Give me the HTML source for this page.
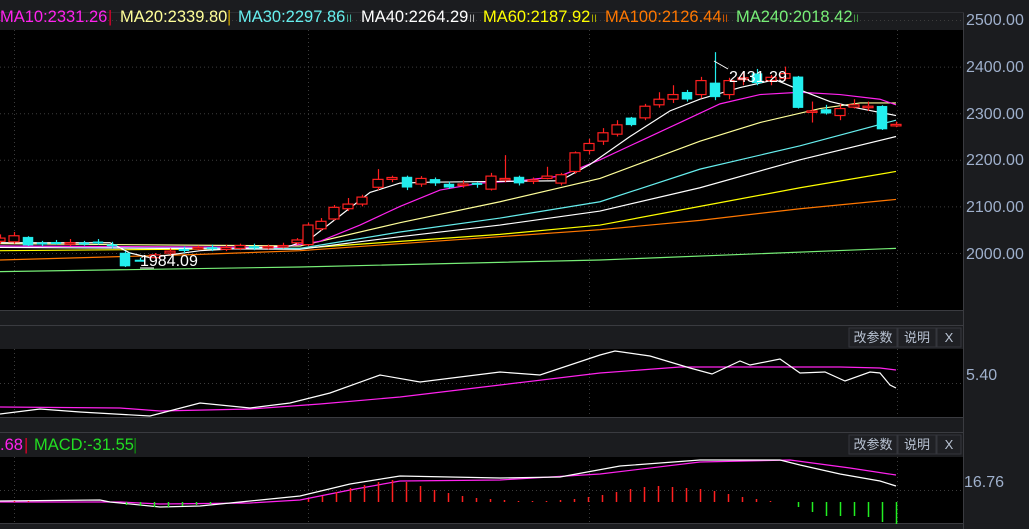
<!DOCTYPE html>
<html><head><meta charset="utf-8"><style>
html,body{margin:0;padding:0;background:#1b1c1f;width:1029px;height:529px;overflow:hidden}
svg{display:block}
text{font-family:"Liberation Sans","Noto Sans CJK SC",sans-serif}
</style></head><body>
<svg id="s" width="1029" height="529" xmlns="http://www.w3.org/2000/svg">
<rect width="1029" height="529" fill="#1b1c1f"/>
<rect x="0" y="30" width="963" height="280" fill="#000"/>
<line x1="0" y1="310.5" x2="964" y2="310.5" stroke="#3a3b40"/>
<line x1="0" y1="325.5" x2="964" y2="325.5" stroke="#3a3b40"/>
<rect x="0" y="349" width="963" height="68" fill="#000"/>
<line x1="0" y1="417.5" x2="964" y2="417.5" stroke="#3a3b40"/>
<line x1="0" y1="432.5" x2="964" y2="432.5" stroke="#3a3b40"/>
<rect x="0" y="457" width="963" height="66" fill="#000"/>
<line x1="0" y1="523.5" x2="964" y2="523.5" stroke="#3a3b40"/>
<line x1="963.5" y1="12" x2="963.5" y2="529" stroke="#3a3b40"/>
<line x1="0" y1="12.5" x2="964" y2="12.5" stroke="#2c2d31"/>
<g id="grid" stroke="#3c3c3c" stroke-dasharray="1,3"></g>
<g id="ma" fill="none" stroke-width="1.2"></g>
<g id="cd"></g>
<text x="729" y="82" fill="#fff" font-size="16">2431.29</text>
<polyline points="714,61 728,69" stroke="#fff" fill="none"/>
<text x="140" y="266" fill="#fff" font-size="16">1984.09</text>
<polyline points="140,268 154,268" stroke="#fff" fill="none"/>
<g font-size="16.5">
<text x="0" y="22" fill="#ff22ee">MA10:2331.26</text><text x="108" y="22" fill="#e0002a">|</text>
<text x="120" y="22" fill="#ffff99">MA20:2339.80</text><text x="227" y="22" fill="#c8a000">|</text>
<text x="238" y="22" fill="#66eeee">MA30:2297.86</text><text x="346" y="22" fill="#44aa99" font-size="11">II</text>
<text x="361" y="22" fill="#fff">MA40:2264.29</text><text x="469" y="22" fill="#aaaaaa" font-size="11">II</text>
<text x="483" y="22" fill="#ffff00">MA60:2187.92</text><text x="591" y="22" fill="#aaaa00" font-size="11">II</text>
<text x="605" y="22" fill="#ff7700">MA100:2126.44</text><text x="722" y="22" fill="#cc5500" font-size="11">II</text>
<text x="736" y="22" fill="#77ee77">MA240:2018.42</text><text x="853" y="22" fill="#449944" font-size="11">II</text>
<text x="0" y="450" fill="#ff22ee">.68</text><text x="24" y="450" fill="#e0002a">|</text>
<text x="34" y="450" fill="#22dd22">MACD:-31.55</text><text x="133" y="450" fill="#118811">|</text>
</g>
<g font-size="16" fill="#9fb0cc">
<text x="966" y="25">2500.00</text><text x="966" y="72">2400.00</text><text x="966" y="119">2300.00</text>
<text x="966" y="165">2200.00</text><text x="966" y="212">2100.00</text><text x="966" y="259">2000.00</text>
<text x="966" y="380">5.40</text><text x="964" y="487">16.76</text>
</g>
<g id="btn" font-size="13" fill="#b8c2d2"></g>
</svg>
<script>
var NS="http://www.w3.org/2000/svg";
function el(p,t,a){var e=document.createElementNS(NS,t);for(var k in a)e.setAttribute(k,a[k]);document.getElementById(p).appendChild(e);return e;}
function Y(p){return 253-(p-2000)*0.466;}
[2500,2400,2300,2200,2100,2000].forEach(function(p){el("grid","line",{x1:0,x2:963,y1:Y(p)+.5,y2:Y(p)+.5});});
[14,308,589,897].forEach(function(x){el("grid","line",{x1:x+.5,x2:x+.5,y1:30,y2:310});});
[383,490].forEach(function(y){el("grid","line",{x1:0,x2:963,y1:y+.5,y2:y+.5});});
[14,308,589,897].forEach(function(x){el("grid","line",{x1:x+.5,x2:x+.5,y1:349,y2:417});el("grid","line",{x1:x+.5,x2:x+.5,y1:457,y2:523});});
[[333,326],[440,433]].forEach(function(r){var y=r[1];
[[849,48,"改参数"],[898,38,"说明"],[937,24,"X"]].forEach(function(b){
el("btn","rect",{x:b[0],y:y+2,width:b[1],height:19,fill:"#1f2024",stroke:"#34363c"});
var t=el("btn","text",{x:b[0]+b[1]/2,y:y+16,"text-anchor":"middle"});t.textContent=b[2];});});
function pl(pts,col,fn){var s=pts.map(function(q){return q[0]+","+(fn?fn(q[1]):q[1]);}).join(" ");el("ma","polyline",{points:s,stroke:col});}
pl([[0,1960],[300,1970],[600,1985],[896,2010]],"#77ee77",Y);
pl([[0,1985],[200,1997],[300,2005],[400,2020],[500,2035],[600,2050],[700,2070],[800,2095],[896,2115]],"#ff7700",Y);
pl([[0,2005],[300,2010],[400,2025],[500,2040],[600,2060],[700,2100],[800,2140],[896,2175]],"#ffff00",Y);
pl([[0,2012],[300,2008],[400,2035],[500,2060],[600,2090],[700,2140],[800,2200],[896,2250]],"#ffffff",Y);
pl([[0,2015],[300,2010],[400,2045],[500,2075],[600,2110],[700,2180],[800,2230],[896,2285]],"#66eeee",Y);
pl([[0,2020],[300,2015],[400,2065],[500,2110],[600,2160],[700,2240],[760,2280],[820,2310],[860,2322],[896,2322]],"#ffff99",Y);
pl([[0,2015],[280,2012],[320,2025],[360,2060],[400,2100],[440,2135],[480,2150],[520,2155],[560,2165],[600,2200],[640,2240],[680,2280],[720,2320],[760,2340],[800,2345],[840,2340],[880,2330],[896,2318]],"#ff22ee",Y);
pl([[0,2022],[110,2022],[130,2000],[150,1990],[200,2005],[290,2015],[310,2030],[340,2080],[370,2130],[400,2150],[430,2152],[560,2155],[590,2190],[630,2250],[670,2305],[700,2330],[740,2355],[775,2372],[800,2350],[830,2325],[860,2310],[896,2295]],"#ffffff",Y);
var C=[[0,2025,2032,2040,2020],[14,2024,2037,2045,2020],[28,2034,2017,2036,2015],[42,2022,2020,2026,2015],[56,2023,2021,2028,2018],[70,2020,2022,2030,2015],[84,2022,2020,2026,2016],[98,2024,2022,2030,2018],[112,2018,2016,2024,2010],[125,2000,1972,2004,1970],[140,1985,1984,1990,1984],[155,1990,1996,2000,1988],[170,2000,2004,2010,1996],[184,2008,2006,2014,2000],[198,2010,2012,2016,2006],[212,2012,2010,2018,2004],[226,2008,2012,2018,2004],[240,2010,2016,2020,2006],[254,2014,2012,2020,2006],[268,2012,2014,2018,2008],[283,2014,2016,2022,2010],[297,2022,2028,2032,2018],[308,2018,2060,2065,2015],[321,2052,2068,2075,2048],[334,2073,2098,2103,2070],[348,2095,2105,2118,2090],[362,2105,2120,2125,2100],[378,2141,2158,2180,2135],[392,2158,2162,2166,2152],[407,2163,2141,2166,2135],[421,2148,2160,2165,2142],[435,2158,2150,2162,2144],[449,2148,2141,2153,2138],[463,2146,2148,2156,2140],[477,2150,2147,2152,2140],[491,2137,2165,2172,2134],[505,2160,2160,2210,2152],[519,2163,2150,2166,2145],[533,2155,2157,2162,2148],[547,2160,2165,2185,2158],[561,2150,2168,2172,2145],[575,2175,2215,2218,2170],[589,2220,2235,2245,2212],[603,2240,2258,2268,2232],[617,2255,2275,2285,2250],[631,2290,2275,2292,2272],[645,2290,2315,2320,2285],[659,2318,2330,2345,2312],[673,2330,2340,2360,2322],[687,2345,2330,2350,2325],[701,2340,2370,2378,2332],[715,2365,2335,2431,2328],[729,2340,2370,2376,2330],[743,2372,2376,2390,2360],[757,2385,2365,2395,2360],[771,2370,2377,2382,2360],[785,2375,2385,2400,2370],[798,2378,2312,2380,2310],[812,2305,2305,2325,2280],[826,2308,2300,2318,2297],[840,2295,2310,2320,2285],[854,2313,2318,2330,2310],[868,2315,2315,2325,2305],[882,2315,2266,2317,2264],[896,2276,2276,2282,2270]];
C.forEach(function(c){var up=c[2]>=c[1],col=up?"#ff2020":"#22eeee";
el("cd","line",{x1:c[0]+.5,x2:c[0]+.5,y1:Y(c[3]),y2:Y(c[4]),stroke:col,"stroke-width":1.2});
var t=Y(Math.max(c[1],c[2])),b=Y(Math.min(c[1],c[2]));var h=Math.max(b-t,1.5);
el("cd","rect",{x:c[0]-5,y:t,width:10,height:h,fill:up?"#000":col,stroke:col,"stroke-width":up?1.2:0.5});});
pl([[0,407],[120,408],[160,411],[250,409],[320,404],[400,397],[500,385],[600,373],[680,367],[840,367],[880,368],[896,370]],"#ff22ee");
pl([[0,414],[40,409],[80,412],[150,416],[200,403],[250,408],[290,403],[330,393],[380,375],[420,382],[460,377],[500,372],[540,375],[600,355],[615,351],[650,356],[690,368],[712,374],[740,361],[750,365],[780,359],[800,373],[825,372],[845,381],[870,372],[880,373],[890,385],[896,388]],"#ffffff");
var z=502;
var H={336:10,350:14,364:17,378:20,392:22,406:20,420:16,434:12,448:9,462:6,476:4,490:3,504:2,518:1,532:1,546:1,560:2,574:3,588:5,602:7,616:10,630:13,644:15,658:16,672:15,686:14,700:13,714:11,728:8,742:5,756:3,770:1,798:-5,812:-10,826:-14,840:-14,854:-14,868:-15,882:-20,896:-22,
126:-3,140:-4,154:-5,168:-5,182:-4,196:-3,210:-2,14:1,28:1,322:6,308:3};
for(var k in H){var v=H[k];el("cd","line",{x1:+k+.5,x2:+k+.5,y1:z,y2:z-v,stroke:v>0?"#ff2020":"#22ee22","stroke-width":1.5});}
pl([[0,502],[120,502],[160,504],[250,503],[300,500],[350,490],[400,481],[500,480],[600,474],[700,462],[790,460],[850,468],[896,475]],"#ff22ee");
pl([[0,501],[100,500],[110,502],[160,507],[200,506],[240,502],[300,496],[350,484],[400,476],[500,478],[560,477],[620,466],[700,460],[780,460],[800,465],[840,474],[880,481],[896,486]],"#ffffff");
</script>
</body></html>
